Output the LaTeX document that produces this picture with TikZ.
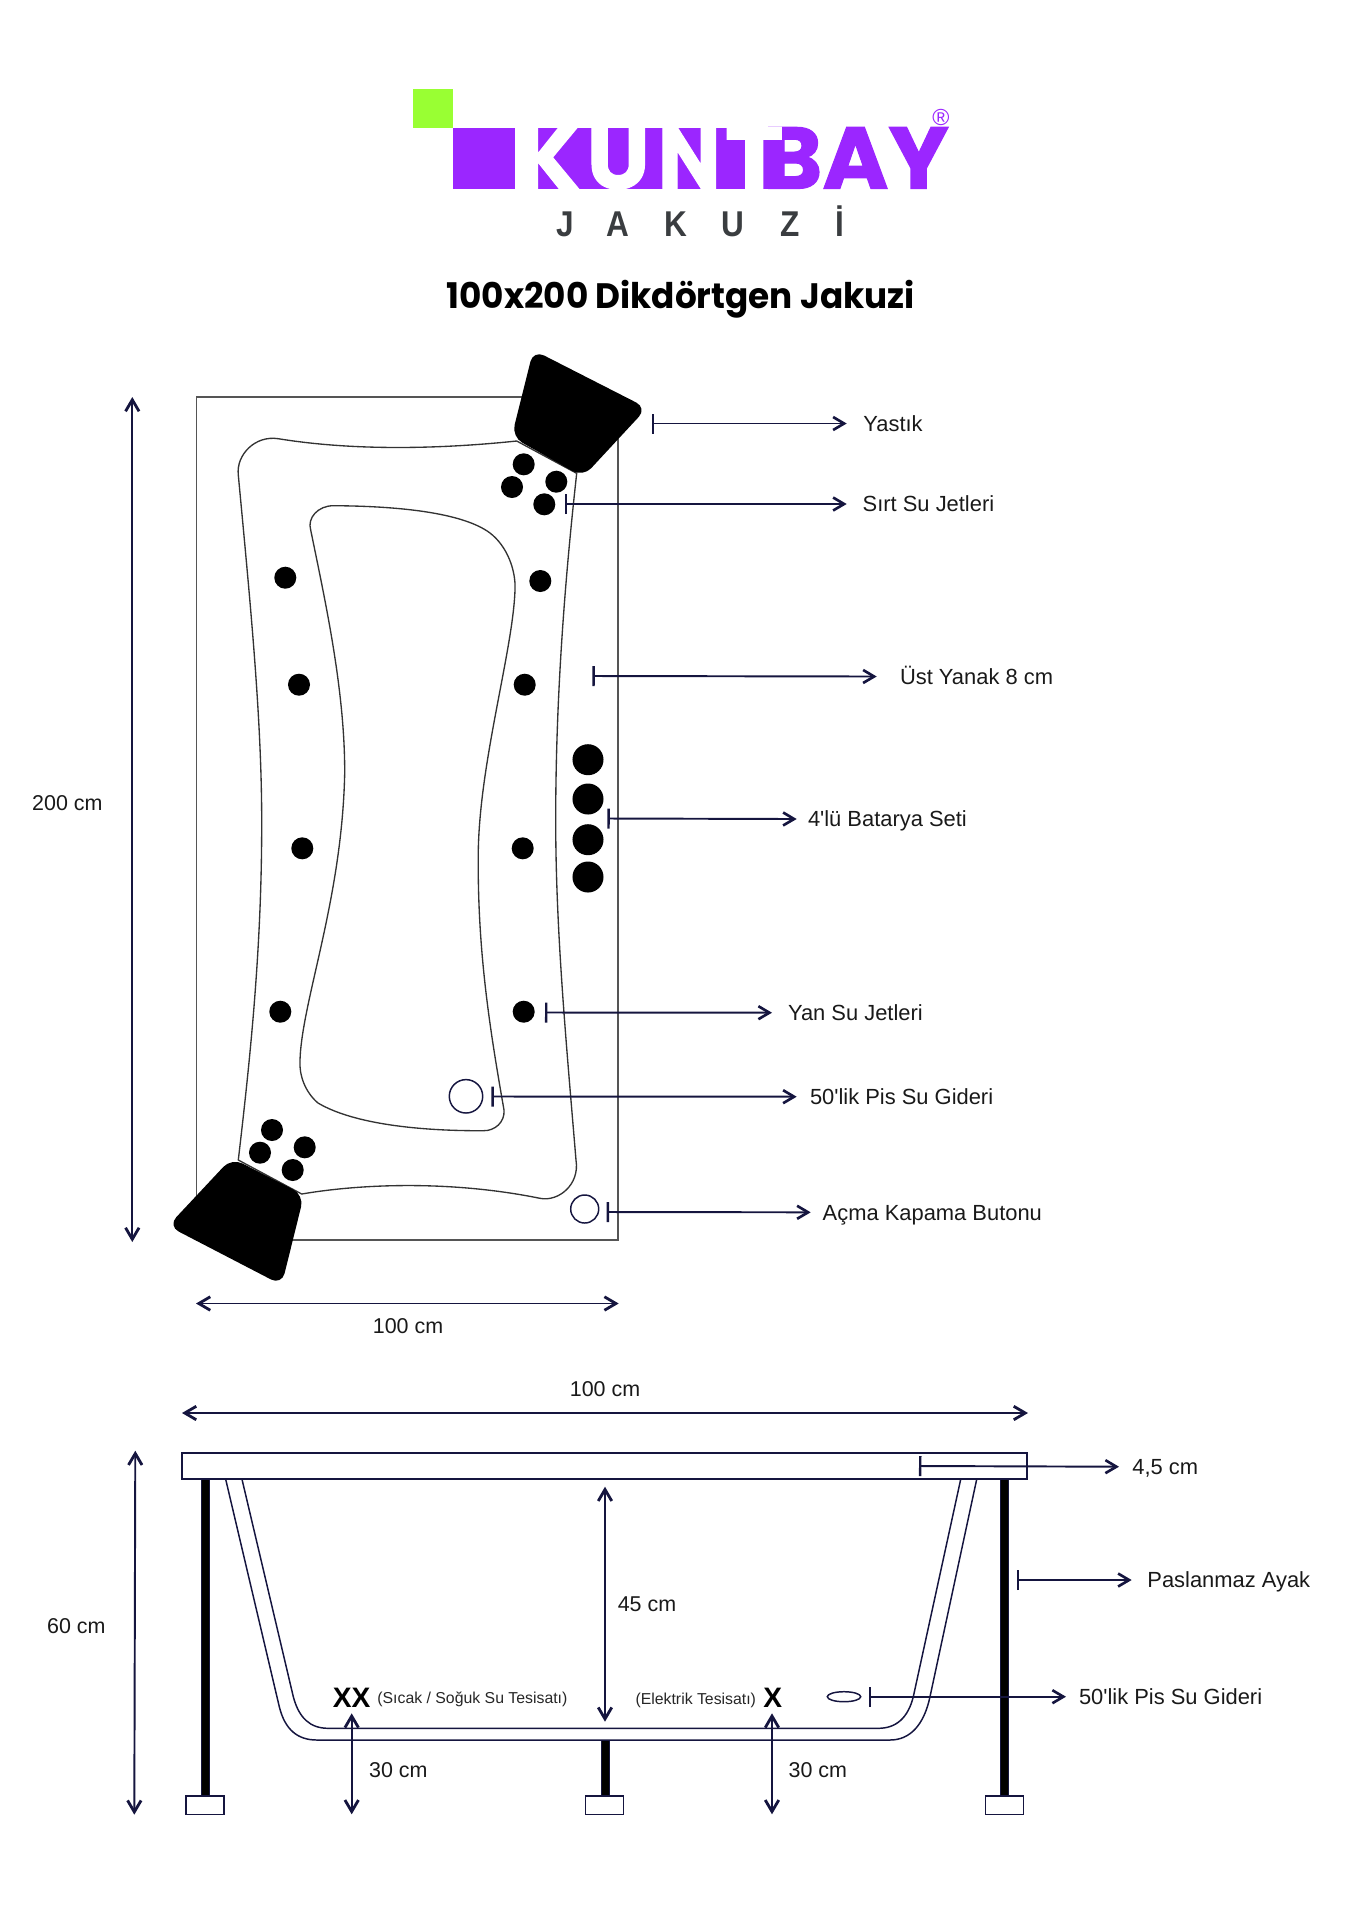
\documentclass[tikz,border=0pt]{standalone}
\usepackage{fontspec}
\usepackage{graphicx}
\usetikzlibrary{arrows.meta,shapes.geometric}
\setmainfont[Ligatures=TeXOff]{Liberation Sans}
\newfontfamily\logofont{Poppins}
\newfontfamily\logoheavy[BoldFeatures={FakeBold=1.2}]{Poppins}
\definecolor{navy}{HTML}{15153F}
\definecolor{basin}{HTML}{333333}
\definecolor{plate}{HTML}{555555}
\definecolor{kpurple}{HTML}{9B26FF}
\definecolor{kgreen}{HTML}{99FF33}
\definecolor{kgrey}{HTML}{3A3D40}
\newcommand{\fitbox}[3]{\resizebox*{#1cm}{#2cm}{#3}}
\tikzset{
  labeltext/.style={font=\fontsize{6.23pt}{7pt}\selectfont,anchor=west,inner xsep=#1,inner ysep=0pt,text height=.157cm,text depth=0pt,text=black!90},
  dimtext/.style={font=\fontsize{6.1pt}{7pt}\selectfont,inner sep=0pt,text height=.157cm,text depth=0pt,text=black!90},
  smalltext/.style={font=\fontsize{4.5pt}{5pt}\selectfont,inner sep=0pt,text=black!85},
  crossmark/.style={font=\fontsize{8pt}{9pt}\selectfont\bfseries,inner sep=0pt,text=black},
  leader/.style={navy,line width=.55pt,{Bar[width=2mm,line width=.7pt]}-{Straight Barb[length=1.1mm,width=1.3mm,line width=.75pt]}},
  dimline/.style={navy,line width=.55pt,{Straight Barb[length=1.15mm,width=1.35mm,line width=.8pt]}-{Straight Barb[length=1.15mm,width=1.35mm,line width=.8pt]}},
  jet/.style={circle,fill=black,inner sep=0pt,minimum size=.22cm},
  battery/.style={circle,fill=black,inner sep=0pt,minimum size=.31cm},
  openring/.style={circle,draw=navy,line width=.42pt,fill=none,inner sep=0pt},
  logoletter/.style={inner sep=0pt,anchor=south west},
  jakletter/.style={inner sep=0pt,anchor=base,text=kgrey,font=\fontsize{10.2pt}{12pt}\selectfont\bfseries},
  basinline/.style={basin,line width=.38pt},
  tubline/.style={navy,line width=.42pt},
  legbar/.style={fill=black,draw=navy,line width=.2pt},
  footbox/.style={fill=white,draw=navy,line width=.42pt},
}
\begin{document}
\begin{tikzpicture}[x=.01cm,y=-.01cm]
\useasboundingbox (0,0) rectangle (1358,1920);
% ---------- logo
\fill[kgreen] (413.3,88.7) rectangle (453.3,128);
\fill[kpurple] (453.3,128) rectangle (515.4,189.3);
\fill[kpurple] (534.6,128) rectangle (770,189.3);
\node[logoletter,text=kpurple] (logoB) at (762.5,189.3) {\fitbox{1.855}{.613}{\logoheavy\bfseries BAY}};
\node[logoletter,text=white] (logoK) at (515.4,189.3) {\fitbox{.64}{.613}{\logoheavy\bfseries K}};
\node[logoletter,text=white] (logoU) at (586,190) {\fitbox{.63}{.62}{\logoheavy\bfseries U}};
\node[logoletter,text=white] (logoN) at (657,189.3) {\fitbox{.63}{.613}{\logoheavy\bfseries N}};
\node[logoletter,text=white] (logoT) at (724,189.3) {\fitbox{.59}{.613}{\logoheavy\bfseries T}};
\node[inner sep=0pt,text=kpurple,font=\fontsize{6.6pt}{7pt}\selectfont] (logoR) at (940.8,117.3) {®};
\foreach \n/\l/\x in {a/J/565,b/A/617.5,c/K/675.8,d/U/733,e/Z/790,f/İ/840}
  \node[jakletter] (jak\n) at (\x,236.7) {\scalebox{.88}[1]{\l}};
\node[inner sep=0pt,anchor=south,text=black] (title) at (680.6,319) {\fitbox{4.68}{.38}{\logofont\bfseries 100x200 Dikdörtgen Jakuzi}};
% ---------- plan
\draw[plate,line width=.42pt] (196.7,397) rectangle (618,1240);
\draw[basinline] (516.7,441) .. controls (450,448) and (360,452) .. (278.3,438.7)
  .. controls (255,435) and (236,455) .. (238.3,475)
  .. controls (250,600) and (262,720) .. (261.7,825)
  .. controls (261.7,950) and (250,1060) .. (238.3,1160)
  -- (301.7,1194) .. controls (360,1184) and (450,1180) .. (540,1198.3)
  .. controls (558,1202) and (580,1185) .. (576,1160)
  .. controls (566,1040) and (555.7,930) .. (555.7,820)
  .. controls (555.7,690) and (566,570) .. (576.7,473.3) -- cycle;
\draw[basinline] (333.3,505.7) .. controls (395,506) and (462,512) .. (490,533)
  .. controls (507,546) and (516,570) .. (515,590)
  .. controls (513,650) and (480,760) .. (478.3,850)
  .. controls (477,950) and (490,1030) .. (504,1110)
  .. controls (505,1122) and (495,1131) .. (483.3,1130.7)
  .. controls (410,1131) and (350,1122) .. (318,1103)
  .. controls (305,1092) and (299,1075) .. (300,1060)
  .. controls (302,1000) and (342,900) .. (344.7,773.3)
  .. controls (345,690) and (325,600) .. (310.7,530)
  .. controls (307,518) and (318,505.7) .. (333.3,505.7) -- cycle;
\fill[black,rounded corners=.12cm] (533.3,350) -- (647,408) -- (583,477) -- (511.7,436.7) -- cycle;
\fill[black,rounded corners=.12cm] (231.7,1158) -- (304,1195) -- (281.7,1285) -- (168,1226) -- cycle;
\foreach \i/\x/\y in {1/523.7/464.3,2/556.3/481.7,3/512/487,4/544.3/504.3,5/285.3/577.7,6/540.3/581,
  7/299/684.7,8/524.7/684.7,9/302.3/848.3,10/522.7/848.3,11/280.3/1011.7,12/523.7/1011.7,
  13/272/1130,14/304.7/1147.3,15/260/1152.7,16/292.7/1170}
  \node[jet] (jet\i) at (\x,\y) {};
\foreach \i/\y in {1/759.7,2/799,3/839.7,4/877}
  \node[battery] (bat\i) at (588,\y) {};
\node[openring,minimum size=.334cm] (drainplan) at (466,1096.3) {};
\node[openring,minimum size=.28cm] (button) at (584.7,1209) {};
% leaders plan
\coordinate (b1) at (651.7,423.5);
\node[labeltext=.16cm] (l1) at (846.7,423.5) {Yastık};
\draw[leader] (b1) -- (l1.west);
\coordinate (b2) at (565,504);
\node[labeltext=.153cm] (l2) at (846.7,504) {Sırt Su Jetleri};
\draw[leader] (b2) -- (l2.west);
\coordinate (b3) at (592.3,676);
\node[labeltext=.226cm] (l3) at (876.7,676.5) {Üst Yanak 8 cm};
\draw[leader] (b3) -- (l3.west);
\coordinate (b4) at (607.3,818.5);
\node[labeltext=.106cm] (l4) at (796.7,819) {4'lü Batarya Seti};
\draw[leader] (b4) -- (l4.west);
\coordinate (b5) at (545,1012.5);
\node[labeltext=.153cm] (l5) at (772,1012.7) {Yan Su Jetleri};
\draw[leader] (b5) -- (l5.west);
\coordinate (b6) at (491.3,1096.5);
\node[labeltext=.126cm] (l6) at (796.7,1096.7) {50'lik Pis Su Gideri};
\draw[leader] (b6) -- (l6.west);
\coordinate (b7) at (606.7,1212);
\node[labeltext=.113cm] (l7) at (810.7,1212.3) {Açma Kapama Butonu};
\draw[leader] (b7) -- (l7.west);
% plan dimensions
\coordinate (d1a) at (132.3,397); \coordinate (d1b) at (132.3,1242);
\draw[dimline] (d1a) -- (d1b);
\node[dimtext] (t1) at (67.4,803) {200 cm};
\coordinate (d2a) at (196,1303.5); \coordinate (d2b) at (618.7,1303.5);
\draw[dimline] (d2a) -- (d2b);
\node[dimtext] (t2) at (408,1325.7) {100 cm};
% ---------- section
\coordinate (d3a) at (182,1413); \coordinate (d3b) at (1028,1413);
\draw[dimline] (d3a) -- (d3b);
\node[dimtext] (t3) at (605,1389) {100 cm};
\draw[legbar] (200.9,1479) rectangle (209.2,1796);
\draw[legbar] (600.9,1740) rectangle (609.1,1796);
\draw[legbar] (1000.3,1479) rectangle (1008.3,1796);
\draw[footbox] (186,1796) rectangle (224,1814.7);
\draw[footbox] (585.7,1796) rectangle (623.7,1814.7);
\draw[footbox] (985.3,1796) rectangle (1023.3,1814.7);
\draw[tubline] (225.7,1479.3) -- (279.3,1706.7) .. controls (285,1730) and (298,1740) .. (316.7,1740)
  -- (890,1740) .. controls (910,1740) and (924,1725) .. (930,1696.7) -- (976.7,1479.3);
\draw[tubline] (242,1479.3) -- (293.3,1696.7) .. controls (299,1718) and (310,1728.3) .. (328.3,1728.3)
  -- (878.3,1728.3) .. controls (896,1728.3) and (908,1718) .. (913.3,1696.7) -- (960.7,1479.3);
\draw[navy,line width=.5pt] (182,1452.7) rectangle (1027.3,1479.3);
\coordinate (d4a) at (605,1486.7); \coordinate (d4b) at (605,1721.7);
\draw[dimline] (d4a) -- (d4b);
\node[dimtext] (t4) at (647,1604) {45 cm};
\node[crossmark] (xx) at (351.7,1698) {XX};
\node[smalltext,anchor=west] (s1) at (376.7,1699) {(Sıcak / Soğuk Su Tesisatı)};
\node[crossmark] (x1) at (772.8,1698) {X};
\node[smalltext,anchor=east] (s2) at (756.7,1700.5) {(Elektrik Tesisatı)};
\coordinate (d5a) at (351.7,1713.3); \coordinate (d5b) at (351.7,1814.3);
\draw[dimline] (d5a) -- (d5b);
\node[dimtext] (t5) at (398.3,1770) {30 cm};
\coordinate (d6a) at (772,1713.3); \coordinate (d6b) at (772,1814.3);
\draw[dimline] (d6a) -- (d6b);
\node[dimtext] (t6) at (817.8,1770) {30 cm};
\coordinate (d7a) at (135.3,1450.7); \coordinate (d7b) at (134.3,1814.7);
\draw[dimline] (d7a) -- (d7b);
\node[dimtext] (t7) at (76.4,1625.7) {60 cm};
\coordinate (b8) at (919,1466);
\node[labeltext=.127cm] (l8) at (1119,1466.7) {4,5 cm};
\draw[leader] (b8) -- (l8.west);
\coordinate (b9) at (1016.7,1580);
\node[labeltext=.15cm] (l9) at (1131.7,1580) {Paslanmaz Ayak};
\draw[leader] (b9) -- (l9.west);
\node[draw=navy,line width=.42pt,ellipse,minimum width=.334cm,minimum height=.1cm,inner sep=0pt] (drainsec) at (844,1696.7) {};
\coordinate (b10) at (869,1696.7);
\node[labeltext=.123cm] (l10) at (1066,1696.7) {50'lik Pis Su Gideri};
\draw[leader] (b10) -- (l10.west);
\end{tikzpicture}
\end{document}
